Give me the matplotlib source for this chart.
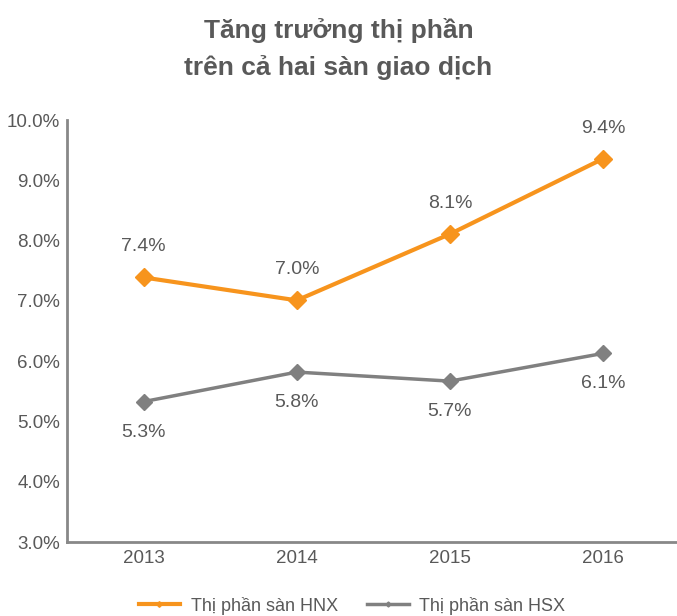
import matplotlib.pyplot as plt

plt.rcParams["font.family"] = ["Liberation Sans", "DejaVu Sans"]

years = ["2013", "2014", "2015", "2016"]
hnx = [7.39, 7.01, 8.11, 9.36]
hsx = [5.33, 5.82, 5.67, 6.13]
y_ticks = [3, 4, 5, 6, 7, 8, 9, 10]

orange = "#F7941D"
grey = "#808080"
text_c = "#595959"

fig = plt.figure(figsize=(6.77, 6.16), dpi=100)
ax = fig.add_axes([0.099, 0.12, 0.905, 0.685])

x = list(range(len(years)))
ax.plot(x, hnx, color=orange, lw=3, marker="D", ms=9.5, label="Thị phần sàn HNX")
ax.plot(x, hsx, color=grey, lw=2.5, marker="D", ms=8.5, label="Thị phần sàn HSX")

for i, v in enumerate(hnx):
    ax.annotate(f"{v:.1f}%", (i, v), xytext=(0, 22), textcoords="offset points",
                ha="center", va="center", fontsize=14, color=text_c)
for i, v in enumerate(hsx):
    ax.annotate(f"{v:.1f}%", (i, v), xytext=(0, -22), textcoords="offset points",
                ha="center", va="center", fontsize=14, color=text_c)

ax.set_xlim(-0.5, 3.5)
ax.set_ylim(3, 10)
ax.set_xticks(x)
ax.set_xticklabels(years)
ax.set_yticks(y_ticks)
ax.set_yticklabels([f"{t:.1f}%" for t in y_ticks])
ax.tick_params(length=0, labelsize=13.5, labelcolor=text_c)
ax.tick_params(axis="x", pad=6)
ax.tick_params(axis="y", pad=5)
for s in ["top", "right"]:
    ax.spines[s].set_visible(False)
for s in ["left", "bottom"]:
    ax.spines[s].set_color("#888888")
    ax.spines[s].set_linewidth(2)

fig.text(0.5, 0.921, "Tăng trưởng thị phần\ntrên cả hai sàn giao dịch",
         ha="center", va="center", fontsize=19, fontweight="bold",
         color=text_c, linespacing=1.6)

leg = fig.legend(loc="lower center", bbox_to_anchor=(0.52, -0.024), ncol=2,
                 frameon=False, fontsize=13, markerscale=0.3, handlelength=2.3,
                 handletextpad=0.6, columnspacing=1.6)
for t in leg.get_texts():
    t.set_color(text_c)

fig.savefig("out.png")
